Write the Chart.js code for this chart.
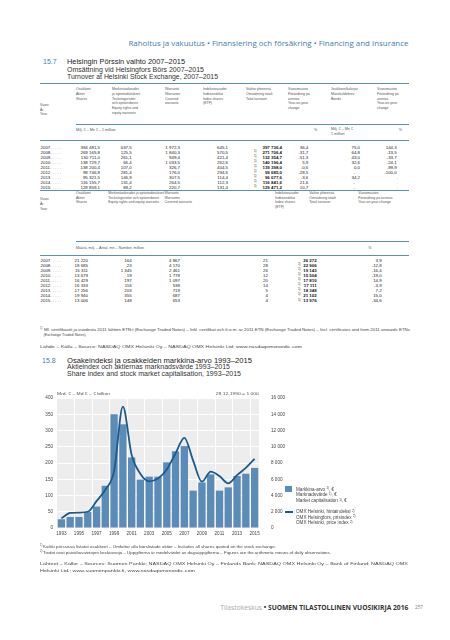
<!DOCTYPE html>
<html><head><meta charset="utf-8">
<script src="https://cdn.jsdelivr.net/npm/chart.js@4.4.1/dist/chart.umd.min.js"></script>
<style>
html,body{margin:0;padding:0;background:#fff;}
body{width:450px;height:640px;position:relative;overflow:hidden;font-family:"Liberation Sans",Arial,sans-serif;color:#333;}
.t{position:absolute;white-space:nowrap;line-height:1.15;}
.rule{position:absolute;}
sup{font-size:65%;vertical-align:0;position:relative;top:-0.45em;}
</style></head><body>
<canvas id="c" width="260" height="170" style="position:absolute;left:30px;top:380px;width:260px;height:170px"></canvas>
<script>
// ---------- DATA ----------
const t1Years = ['2007','2008','2009','2010','2011','2012','2013','2014','2015'];
const t1Shares = ['394 481,5','269 165,8','130 711,0','138 729,7','138 200,4','98 746,8','95 321,5','116 155,7','128 859,1'];
const t1Rights = ['637,5','125,5','261,1','66,4','107,0','281,4','146,9','131,4','89,2'];
const t1Warrants = ['1 972,3','1 840,3','949,4','1 033,5','326,7','176,0','307,5','264,5','220,7'];
const t1Etf = ['645,1','570,5','421,4','262,6','404,5','294,6','114,4','112,3','131,4'];
const t1Total = ['397 736,4','271 706,4','132 354,7','140 196,4','139 398,0','99 685,0','96 077,6','116 841,6','129 471,2'];
const t1TotalNote = [false,true,true,true,true,true,true,true,true];
const t1Change = ['36,4','-31,7','-51,3','5,9','-0,6','-28,5','-3,6','21,6','10,7'];
const t1Bonds = ['75,0','64,8','43,0','32,6','0,0','-','34,2','-','-'];
const t1BondsChange = ['144,3','-13,5','-33,7','-24,1','-99,9','-100,0','.','.','.'];

const t2Years = ['2007','2008','2009','2010','2011','2012','2013','2014','2015'];
const t2Shares = ['21 220','18 685','15 311','13 679','16 429','16 333','17 256','19 940','13 006'];
const t2Rights = ['164','23','1 345','19','197','116','203','355','148'];
const t2Warrants = ['4 867','4 170','2 461','1 778','1 097','538','719','687','653'];
const t2Etf = ['21','28','26','12','20','14','5','4','4'];
const t2Total = ['26 272','22 906','19 143','15 504','17 810','17 111','18 348','21 102','13 976'];
const t2TotalNote = [false,true,true,true,true,true,true,true,true];
const t2Change = ['3,9','-12,8','-16,4','-19,0','14,9','-3,9','7,2','15,0','-34,6'];

const chartYears = ['1993','1994','1995','1996','1997','1998','1999','2000','2001','2002','2003','2004','2005','2006','2007','2008','2009','2010','2011','2012','2013','2014','2015'];
const marketCap = [27,34,34,49,66,130,350,319,217,149,158,158,202,236,252,115,140,165,115,125,160,167,185];
const omxIndex = [1200,1850,1900,2000,3300,4700,7000,14950,9000,6650,5750,6100,7200,9200,11100,8300,5700,6950,6400,5500,6500,7400,8500];
const xTickLabels = ['1993','1995','1997','1999','2001','2003','2005','2007','2009','2011','2013','2015'];
const leftTickStep = 50, leftMax = 400;
const rightTickStep = 2000, rightMax = 16000;

// ---------- LAYOUT HELPERS ----------
function T(x, yc, html, o){
  o = o || {};
  const fs = o.fs || 4.4;
  const d = document.createElement('div');
  d.className = 't';
  d.innerHTML = html;
  d.style.fontSize = fs + 'px';
  if (o.font) d.style.fontFamily = o.font;
  if (o.color) d.style.color = o.color;
  if (o.weight) d.style.fontWeight = o.weight;
  d.style.top = (yc - 0.6 * fs) + 'px';
  d.style.left = '0px';
  document.body.appendChild(d);
  let w = d.getBoundingClientRect().width;
  if (o.w) {
    const s = o.w / w;
    d.style.transformOrigin = (o.align === 'right') ? 'right center' : 'left center';
    d.style.transform = 'scaleX(' + s + ')';
    if (o.align === 'right') { d.style.left = (x - w) + 'px'; }
    else d.style.left = x + 'px';
    return d;
  }
  if (o.align === 'right') d.style.left = (x - w) + 'px';
  else if (o.align === 'center') d.style.left = (x - w / 2) + 'px';
  else d.style.left = x + 'px';
  return d;
}
function lines(x, yc, arr, lh, o){ arr.forEach((s, i) => T(x, yc + i * lh, s, o)); }
function R(x1, x2, y, th, color){
  const d = document.createElement('div');
  d.className = 'rule';
  d.style.left = x1 + 'px'; d.style.width = (x2 - x1) + 'px';
  d.style.top = (y - th / 2) + 'px'; d.style.height = th + 'px';
  d.style.background = color;
  document.body.appendChild(d);
}
const BLUE = '#4a80ac', RULE = '#5a8fb8', HDR = '#555';
const OS = '"Open Sans","Liberation Sans",sans-serif';

// ---------- PAGE HEADER ----------
T(408, 44, 'Rahoitus ja vakuutus • Finansiering och försäkring • Financing and Insurance', {fs:6.6, font:OS, color:'#3f7cab', w:280, align:'right'});

// ---------- TABLE 15.7 ----------
T(43, 62.3, '15.7', {fs:7, color:BLUE});
T(67, 62.3, 'Helsingin Pörssin vaihto 2007–2015', {fs:7, color:'#222', w:118});
T(67, 70, 'Omsättning vid Helsingfors Börs 2007–2015', {fs:6.8, color:'#333', w:137});
T(67, 77.3, 'Turnover at Helsinki Stock Exchange, 2007–2015', {fs:6.8, color:'#333', w:151});
R(40, 409, 83.3, 1.2, RULE);

const h1 = {fs:3.5, color:HDR};
const LH1 = 4.8;
lines(76, 89, ['Osakkeet','Aktier','Shares'], LH1, h1);
lines(112, 89, ['Merkintäoikeudet','ja optiotodistukset','Teckningsrätter','och optionsbevis','Equity rights and','equity warrants'], LH1, h1);
lines(165, 89, ['Warrantit','Warranter','Covered','warrants'], LH1, h1);
lines(203, 89, ['Indeksiosuudet','Indexandelar','Index shares','(ETF)'], LH1, h1);
lines(246, 89, ['Vaihto yhteensä','Omsättning totalt','Total turnover'], LH1, h1);
lines(288, 89, ['Vuosimuutos','Förändring på','årsnivå','Year-on-year','change'], LH1, h1);
lines(331, 89, ['Joukkovelkakirjat','Masskuldebrev','Bonds'], LH1, h1);
lines(377, 89, ['Vuosimuutos','Förändring på','årsnivå','Year-on-year','change'], LH1, h1);
lines(40, 105, ['Vuosi','År','Year'], 4.6, h1);
R(76, 409, 124, 0.9, RULE);
T(76, 130.7, 'Milj. € – Mn € – € million', {fs:3.7, color:HDR});
T(315.7, 130.7, '%', {fs:3.7, color:HDR, align:'center'});
lines(331, 129.3, ['Milj. € – Mn €','€ million'], 4.6, {fs:3.7, color:HDR});
T(400.3, 130.7, '%', {fs:3.7, color:HDR, align:'center'});
R(40, 409, 140.7, 1, RULE);

const d1 = {fs:4.4, color:'#222', align:'right'};
t1Years.forEach((yr, i) => {
  const y = 147.2 + i * 5;
  T(40.5, y, yr + '. . . . .', {fs:4.4, color:'#222'});
  T(100, y, t1Shares[i], d1);
  T(131.7, y, t1Rights[i], d1);
  T(180, y, t1Warrants[i], d1);
  T(228, y, t1Etf[i], d1);
  if (t1TotalNote[i]) T(254, y - 0.8, '1)', {fs:2.9, color:'#222'});
  T(282, y, t1Total[i], {fs:4.4, color:'#111', align:'right', weight:'bold'});
  T(308.3, y, t1Change[i], d1);
  const b = t1Bonds[i];
  T(b === '-' ? 355 : 360, y, b, d1);
  const bc = t1BondsChange[i];
  T(bc === '.' ? 398 : 396.7, y, bc, d1);
});

// second part of table
R(40, 409, 190.7, 1.2, RULE);
const LH2 = 4.5;
lines(76, 193.5, ['Osakkeet','Aktier','Shares'], LH2, h1);
lines(108.3, 193.5, ['Merkintäoikeudet ja optiotodistukset','Teckningsrätter och optionsbevis','Equity rights and equity warrants'], LH2, h1);
lines(164.5, 193.5, ['Warrantit','Warranter','Covered warrants'], LH2, h1);
lines(275, 193.5, ['Indeksiosuudet','Indexandelar','Index shares','(ETF)'], LH2, h1);
lines(309.3, 193.5, ['Vaihto yhteensä','Omsättning totalt','Total turnover'], LH2, h1);
lines(358.3, 193.5, ['Vuosimuutos','Förändring på årsnivå','Year-on-year change'], LH2, h1);
lines(40, 199.5, ['Vuosi','År','Year'], 4.6, h1);
R(76, 409, 241.7, 0.9, RULE);
T(76, 248.7, 'Määrä, milj. – Antal, mn – Number, million', {fs:3.7, color:HDR});
T(370, 248.7, '%', {fs:3.7, color:HDR, align:'center'});
R(40, 409, 255, 1, RULE);

t2Years.forEach((yr, i) => {
  const y = 260.3 + i * 5.1;
  T(40.5, y, yr + '. . . . .', {fs:4.4, color:'#222'});
  T(88, y, t2Shares[i], d1);
  T(131.7, y, t2Rights[i], d1);
  T(180, y, t2Warrants[i], d1);
  T(268, y, t2Etf[i], d1);
  if (t2TotalNote[i]) T(298, y - 0.8, '1)', {fs:2.9, color:'#222'});
  T(316.7, y, t2Total[i], {fs:4.4, color:'#111', align:'right', weight:'bold'});
  T(381.7, y, t2Change[i], d1);
});

T(40, 329.3, '1)', {fs:2.6, color:'#444'});
T(43.5, 330, 'Ml. sertifikaatit ja vuodesta 2011 lähtien ETN:t (Exchange Traded Notes) – Inkl. certifikat och fr.o.m. år 2011 ETN (Exchange Traded Notes) – Incl. certificates and from 2011 onwards ETNs', {fs:3.7, color:'#444', w:366});
T(43.5, 335.7, '(Exchange Traded Notes).', {fs:3.7, color:'#444'});
T(40, 347.3, 'Lähde – Källa – Source: NASDAQ OMX Helsinki Oy – NASDAQ OMX Helsinki Ltd; www.nasdaqomxnordic.com', {fs:4.3, color:'#444', w:262});

// ---------- CHART 15.8 ----------
T(42, 360.7, '15.8', {fs:7, color:BLUE});
T(67, 360.7, 'Osakeindeksi ja osakkeiden markkina-arvo 1993–2015', {fs:7, color:'#222', w:185});
T(67, 367.5, 'Aktieindex och aktiernas marknadsvärde 1993–2015', {fs:6.8, color:'#333', w:163});
T(67, 374.3, 'Share index and stock market capitalisation, 1993–2015', {fs:6.8, color:'#333', w:174});
T(57, 394, 'Mrd. € – Md € – € billion', {fs:3.8, color:'#555', w:53});
T(258.5, 394, '28.12.1990 = 1 000', {fs:3.8, color:'#555', w:43, align:'right'});

const fmt = v => String(v).replace(/\B(?=(\d{3})+(?!\d))/g, ' ');
const bgPlugin = {id:'bg', beforeDraw(ch){
  const {ctx, chartArea:a} = ch;
  ctx.save(); ctx.fillStyle = '#ededed';
  ctx.fillRect(a.left, a.top, a.right - a.left, a.bottom - a.top);
  ctx.restore();
}};
const tickFont = {size:4.6, family:'"Liberation Sans", Arial, sans-serif'};
new Chart(document.getElementById('c'), {
  type:'bar',
  data:{labels:chartYears, datasets:[
    {type:'line', label:'OMX Helsinki, hintaindeksi', data:omxIndex, yAxisID:'y2',
     borderColor:'#1c5a8a', borderWidth:1.8, pointRadius:0, cubicInterpolationMode:'monotone', fill:false, order:1},
    {type:'bar', label:'Markkina-arvo', data:marketCap, yAxisID:'y',
     backgroundColor:'#5b8cb8', barPercentage:0.83, categoryPercentage:1, order:2}
  ]},
  options:{
    responsive:false, animation:false, devicePixelRatio:1,
    layout:{padding:{top:18, left:0, right:0, bottom:0}},
    plugins:{legend:{display:false}, tooltip:{enabled:false}},
    scales:{
      x:{offset:true,
         grid:{offset:true, drawTicks:false, lineWidth:1,
               color:c => (c.index % 2 === 0 && c.index > 0) ? '#ffffff' : 'rgba(0,0,0,0)'},
         border:{display:false},
         ticks:{autoSkip:false, maxRotation:0, minRotation:0, padding:3, font:tickFont, color:'#444',
                callback:(v, i) => xTickLabels.includes(chartYears[i]) ? chartYears[i] : ''},
         afterFit:s => { s.height = 22; }},
      y:{position:'left', min:0, max:leftMax,
         ticks:{stepSize:leftTickStep, padding:4, font:tickFont, color:'#444'},
         grid:{color:'#ffffff', lineWidth:1, drawTicks:false},
         border:{display:false},
         afterFit:s => { s.width = 27; }},
      y2:{position:'right', min:0, max:rightMax,
         ticks:{stepSize:rightTickStep, padding:4, font:tickFont, color:'#444', callback:v => fmt(v)},
         grid:{display:false}, border:{display:false},
         afterFit:s => { s.width = 31; }}
    }
  },
  plugins:[bgPlugin]
});

// legend
(function(){
  const sq = document.createElement('div');
  sq.style.cssText = 'position:absolute;left:285px;top:486.3px;width:7px;height:5.5px;background:#5b8cb8;';
  document.body.appendChild(sq);
  const ln = document.createElement('div');
  ln.style.cssText = 'position:absolute;left:285px;top:511px;width:8px;height:1.6px;background:#1c5a8a;';
  document.body.appendChild(ln);
})();
const lg = {fs:4.6, color:'#444'};
T(296, 489.3, 'Markkina-arvo <sup>1)</sup>, €', lg);
T(296, 495, 'Marknadsvärde <sup>1)</sup>, €', lg);
T(296, 500.7, 'Market capitalisation <sup>1)</sup>, €', lg);
T(296, 511.7, 'OMX Helsinki, hintaindeksi <sup>2)</sup>', lg);
T(296, 517.4, 'OMX Helsingfors, prisindex <sup>2)</sup>', lg);
T(296, 523.1, 'OMX Helsinki, price index <sup>2)</sup>', lg);

// footnotes
T(40, 546.3, '1)', {fs:2.6, color:'#444'});
T(43, 547, 'Kaikki pörssissä listatut osakkeet – Omfattar alla börslistade aktier – Includes all shares quoted on the stock exchange.', {fs:3.7, color:'#444', w:233});
T(40, 552.8, '2)', {fs:2.6, color:'#444'});
T(43, 553.5, 'Tiedot ovat päivähavaintojen keskiarvoja – Uppgifterna är medelvärdet av dagsuppgifterna – Figures are the arithmetic means of daily observations.', {fs:3.7, color:'#444', w:288});
T(40, 564.3, 'Lähteet – Källor – Sources: Suomen Pankki; NASDAQ OMX Helsinki Oy – Finlands Bank; NASDAQ OMX Helsinki Oy – Bank of Finland; NASDAQ OMX', {fs:4.3, color:'#444', w:368});
T(40, 571.5, 'Helsinki Ltd.; www.suomenpankki.fi, www.nasdaqomxnordic.com', {fs:4.3, color:'#444', w:155});

// page footer
T(408, 608, '<span style="color:#a9a9a9;font-weight:normal">Tilastokeskus</span> • SUOMEN TILASTOLLINEN VUOSIKIRJA 2016', {fs:6.6, font:OS, color:'#333', weight:'bold', w:188, align:'right'});
T(415, 608, '257', {fs:4.6, font:OS, color:'#777'});
</script>
</body></html>
